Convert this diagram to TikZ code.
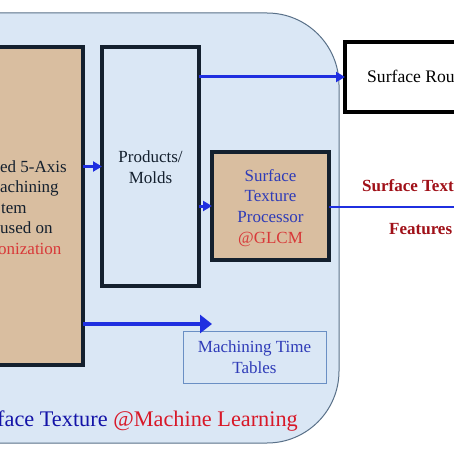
\documentclass[tikz,border=0pt]{standalone}
\usepackage{fontspec}
\setmainfont{Liberation Serif}
\usetikzlibrary{arrows.meta}
\definecolor{bgblue}{HTML}{DAE7F5}
\definecolor{bgedge}{HTML}{5A7189}
\definecolor{tanfill}{HTML}{D9BEA0}
\definecolor{boxdark}{HTML}{14202E}
\definecolor{arrblue}{HTML}{1F2FE0}
\definecolor{txtblue}{HTML}{2E3BB8}
\definecolor{deepblue}{HTML}{1414A8}
\definecolor{softred}{HTML}{D83838}
\definecolor{mlred}{HTML}{D81828}
\definecolor{darkred}{HTML}{A01018}
\definecolor{tbledge}{HTML}{6A8FC4}
\begin{document}
\begin{tikzpicture}[x=1pt,y=-1pt,
  tanbox/.style={draw=boxdark, fill=tanfill, line width=3.5pt, outer sep=0pt, inner sep=0pt, anchor=north west},
  bluebox/.style={draw=boxdark, fill=bgblue, line width=3.5pt, outer sep=0pt, inner sep=0pt, anchor=north west},
  whitebox/.style={draw=black, fill=white, line width=4.5pt, outer sep=0pt, inner sep=0pt, anchor=north west},
  tblbox/.style={draw=tbledge, fill=bgblue, line width=0.8pt, outer sep=0pt, inner sep=0pt, anchor=north west},
  txt/.style={font=\fontsize{17}{20.8}\selectfont, align=center, inner sep=0pt},
  linetxt/.style={font=\fontsize{17}{20.8}\selectfont, inner sep=0pt, anchor=base west},
  boldtxt/.style={font=\fontsize{17}{20.8}\selectfont\bfseries, text=darkred, inner sep=0pt, anchor=base west},
  arr/.style={draw=arrblue, line width=3pt, -{Triangle[length=9pt,width=10pt]}},
  bigarr/.style={draw=arrblue, line width=4pt, -{Triangle[length=12pt,width=18pt]}},
  flow/.style={draw=arrblue, line width=2.6pt}
]
\clip (0,0) rectangle (454,454);
\useasboundingbox (0,0) rectangle (454,454);
\fill[white] (0,0) rectangle (454,454);

% big rounded background
\draw[fill=bgblue, draw=bgedge, line width=1pt, rounded corners=72pt] (-120,13) rectangle (339,443);

% boxes
\node[tanbox, minimum width=143pt, minimum height=318pt] (left) at (-60,47) {};
\node[bluebox, minimum width=97pt, minimum height=239pt] (prod) at (102,47) {};
\node[tanbox, minimum width=117pt, minimum height=108pt] (stp) at (212,152) {};
\node[whitebox, minimum width=175pt, minimum height=70pt] (sr) at (345,42) {};
\node[tblbox, minimum width=143pt, minimum height=52pt] (mtt) at (183,331) {};

% texts
\node[linetxt, text=boxdark] (l1) at (0,172) {ed 5-Axis};
\node[linetxt, text=boxdark] (l2) at (0,192.5) {achining};
\node[linetxt, text=boxdark] (l3) at (1,213) {tem};
\node[linetxt, text=boxdark] (l4) at (0,233.5) {used on};
\node[linetxt, text=softred] (l5) at (-2,254) {onization};

\node[txt, text=boxdark] (prodtxt) at (150.5,167) {Products/\\Molds};
\node[txt] (stptxt) at (270.5,208) {\textcolor{txtblue}{Surface}\\\textcolor{txtblue}{Texture}\\\textcolor{txtblue}{Processor}\\\textcolor{softred}{@GLCM}};
\node[txt, text=txtblue] (mtttxt) at (254.5,357.5) {Machining Time\\Tables};
\node[linetxt, font=\fontsize{17.6}{20.8}\selectfont, text=black] (srtxt) at (367,83) {Surface Rou};
\node[boldtxt] (stf1) at (362,191) {Surface Text};
\node[boldtxt] (stf2) at (389,234) {Features};
\node[font=\fontsize{22.3}{24}\selectfont, inner sep=0pt, anchor=base west, text=deepblue] (bottom) at (-3,426) {face Texture \textcolor{mlred}{@Machine Learning}};

% connectors
\coordinate (mttarrow) at (212,324);
\coordinate (rend) at (470,207);
\draw[arr] (prod.east |- sr.west) -- (sr.west);
\draw[arr] (left.east |- prod.west) -- (prod.west);
\draw[arr] (prod.east |- stp.west) -- (stp.west);
\draw[bigarr] (left.east |- mttarrow) -- (mttarrow);
\draw[flow] (stp.east |- rend) -- (rend);
\end{tikzpicture}
\end{document}
